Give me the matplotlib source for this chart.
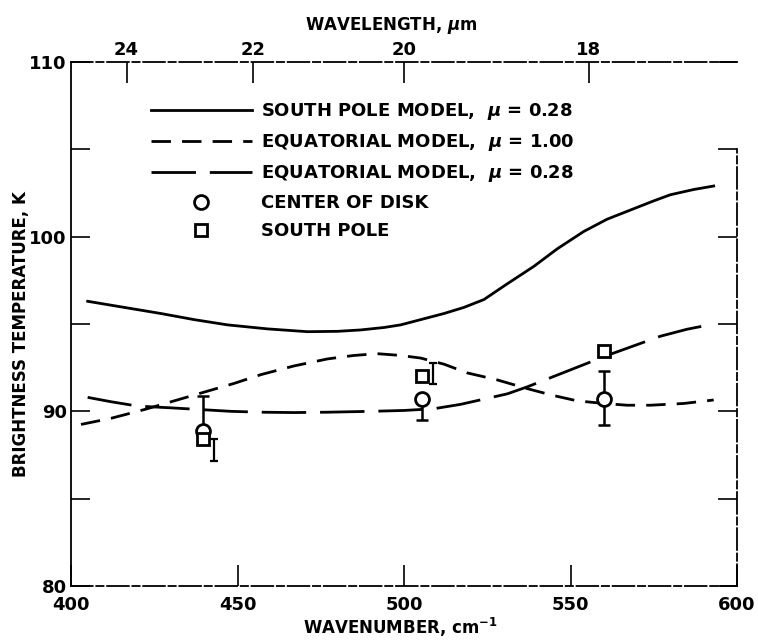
import numpy as np
import matplotlib.pyplot as plt

plt.rcParams['font.family'] = ['DejaVu Sans']
plt.rcParams['font.weight'] = 'bold'
plt.rcParams['mathtext.fontset'] = 'dejavusans'

# model curves (wavenumber cm-1, brightness temperature K)
wn_south = [405, 416, 427, 437, 447, 459, 471, 480, 487, 494, 499, 505, 512,
            518, 524, 531, 539, 546, 554, 561, 569, 575, 580, 587, 593]
t_south = [96.3, 95.95, 95.6, 95.25, 94.95, 94.72, 94.56, 94.58, 94.66, 94.8,
           94.95, 95.25, 95.6, 95.95, 96.4, 97.3, 98.3, 99.3, 100.3, 101.0,
           101.6, 102.05, 102.4, 102.7, 102.9]

wn_eq100 = [403, 412, 422, 431, 440, 449, 457, 467, 477, 485, 492, 499, 505,
            512, 519, 528, 537, 545, 552, 560, 567, 574, 584, 593]
t_eq100 = [89.25, 89.6, 90.1, 90.6, 91.1, 91.6, 92.1, 92.6, 93.0, 93.2, 93.3,
           93.2, 93.05, 92.7, 92.2, 91.8, 91.3, 90.9, 90.6, 90.45, 90.35,
           90.35, 90.45, 90.65]

wn_eq028 = [405, 412, 420, 430, 439, 448, 457, 467, 477, 490, 500, 509, 517,
            524, 531, 537, 543, 549, 555, 561, 569, 577, 585, 593]
t_eq028 = [90.8, 90.55, 90.3, 90.2, 90.1, 90.0, 89.95, 89.93, 89.95, 90.0,
           90.05, 90.15, 90.4, 90.7, 91.0, 91.4, 91.85, 92.3, 92.75, 93.2,
           93.75, 94.3, 94.7, 95.0]

# observations
wn_obs = [439.5, 505.3, 560.0]
t_disk = [88.9, 90.7, 90.7]
disk_lo = [0.0, 1.2, 1.5]
disk_hi = [2.0, 0.0, 1.6]

t_pole = [88.4, 92.0, 93.45]
wn_pole_err = [443.0, 508.7]
t_pole_err = [88.4, 92.15]
pole_lo = [1.25, 0.6]
pole_hi = [0.0, 0.6]

fig = plt.figure(figsize=(7.58, 6.41), dpi=100)
ax = fig.add_axes([71 / 758, 1 - 586 / 641, 666 / 758, 524 / 641])

ax.plot(wn_south, t_south, color='black', lw=2.0,
        label=r'SOUTH POLE MODEL,  $\mu$ = 0.28')
ax.plot(wn_eq100, t_eq100, color='black', lw=2.0, dashes=(7, 4),
        label=r'EQUATORIAL MODEL,  $\mu$ = 1.00')
ax.plot(wn_eq028, t_eq028, color='black', lw=2.0, dashes=(16, 5),
        label=r'EQUATORIAL MODEL,  $\mu$ = 0.28')

ax.errorbar(wn_obs, t_disk, yerr=[disk_lo, disk_hi], fmt='none',
            ecolor='black', elinewidth=1.8, capsize=4, capthick=1.8, zorder=3)
ax.errorbar(wn_pole_err, t_pole_err, yerr=[pole_lo, pole_hi], fmt='none',
            ecolor='black', elinewidth=1.6, capsize=3, capthick=1.6, zorder=3)
ax.plot(wn_obs, t_disk, 'o', ms=10, mfc='white', mec='black', mew=2.0,
        ls='none', zorder=4, label='CENTER OF DISK')
ax.plot(wn_obs, t_pole, 's', ms=9, mfc='white', mec='black', mew=2.0,
        ls='none', zorder=5, label='SOUTH POLE')

ax.set_xlim(400, 600)
ax.set_ylim(80, 110)
ax.set_xticks([400, 450, 500, 550, 600])
ax.set_yticks([80, 90, 100, 110])
ax.set_yticks([85, 95, 105], minor=True)
ax.tick_params(axis='both', which='both', direction='in', length=15,
               width=1.2, labelsize=13)
ax.tick_params(axis='x', pad=7)
ax.tick_params(right=True, which='both')
ax.tick_params(axis='y', which='both', length=14, pad=3)

for side in ['top', 'right', 'bottom']:
    ax.spines[side].set_linestyle((0, (12, 2, 4, 2)))
for side in ax.spines:
    ax.spines[side].set_linewidth(1.3)
ax.spines['right'].set_bounds(80, 105)

ax.set_xlabel('WAVENUMBER, cm$^{-1}$', fontsize=12, fontweight='bold')
ax.xaxis.set_label_coords(0.495, -0.058)
ax.set_ylabel('BRIGHTNESS TEMPERATURE, K', fontsize=12, fontweight='bold')
ax.yaxis.set_label_coords(-0.062, 0.48)

# wavelength scale along the top
top = ax.secondary_xaxis('top', functions=(lambda x: 1e4 / x, lambda x: 1e4 / x))
top.set_xticks([24, 22, 20, 18])
top.tick_params(direction='in', length=15, width=1.2, labelsize=13, pad=2)
top.spines['top'].set_visible(False)
fig.text(391 / 758, 1 - 25 / 641, 'WAVELENGTH, $\\mu$m', fontsize=12,
         fontweight='bold', ha='center', va='center')

leg = ax.legend(loc='upper left', bbox_to_anchor=(0.12, 0.925), frameon=False,
                fontsize=13, handlelength=5.6, handletextpad=0.5,
                labelspacing=0.55, borderpad=0, borderaxespad=0)

fig.savefig('out.png', dpi=100)
